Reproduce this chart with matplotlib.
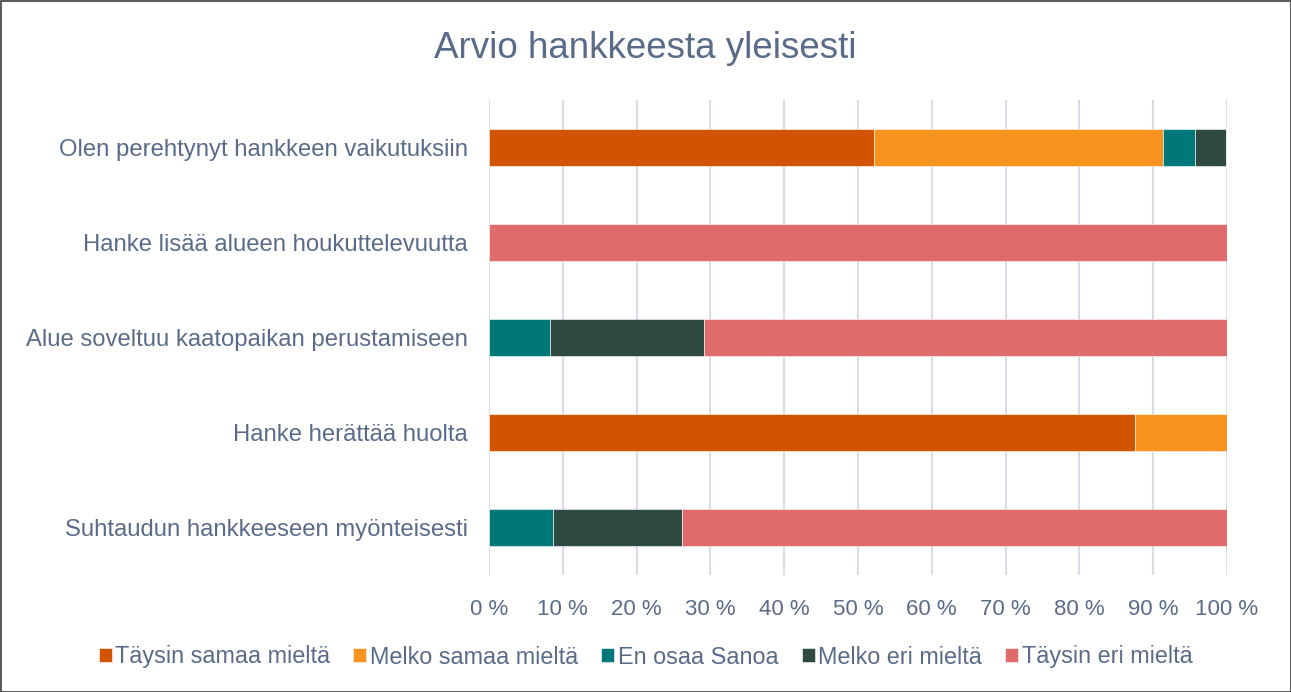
import matplotlib
matplotlib.use("Agg")
import matplotlib.pyplot as plt
from matplotlib.patches import Rectangle
import numpy as np

plt.rcParams['font.family'] = ['Liberation Sans', 'DejaVu Sans']

categories = [
    "Olen perehtynyt hankkeen vaikutuksiin",
    "Hanke lisää alueen houkuttelevuutta",
    "Alue soveltuu kaatopaikan perustamiseen",
    "Hanke herättää huolta",
    "Suhtaudun hankkeeseen myönteisesti",
]
series_names = ["Täysin samaa mieltä", "Melko samaa mieltä", "En osaa Sanoa",
                "Melko eri mieltä", "Täysin eri mieltä"]
taysin_samaa = [52.2, 0, 0, 87.5, 0]
melko_samaa = [39.1, 0, 0, 12.5, 0]
en_osaa = [4.3, 0, 8.3, 0, 8.7]
melko_eri = [4.3, 0, 20.8, 0, 17.4]
taysin_eri = [0, 100, 70.9, 0, 73.9]
xticks = [0, 10, 20, 30, 40, 50, 60, 70, 80, 90, 100]
xtick_labels = [f"{v} %" for v in xticks]

colors = ["#D35400", "#F7931E", "#00787A", "#2E4A42", "#E06B6B"]
text_color = "#5A6B8A"

fig = plt.figure(figsize=(12.91, 6.92), dpi=100)
ax = fig.add_axes([489/1291, 1-575/692, (1227-489)/1291, 475/692])

y = np.arange(len(categories))
left = np.zeros(len(categories))
for vals, name, c in zip([taysin_samaa, melko_samaa, en_osaa, melko_eri, taysin_eri],
                         series_names, colors):
    vals = np.array(vals)
    ax.barh(y, vals, left=left, height=0.39, color=c, label=name,
            edgecolor='white', linewidth=0.4, zorder=3)
    left += vals

ax.set_xlim(0, 100)
ax.set_ylim(len(categories)-0.5, -0.5)
ax.set_yticks(y)
ax.set_yticklabels(categories, fontsize=17.2, color=text_color)
ax.set_xticks(xticks)
ax.set_xticklabels(xtick_labels, fontsize=16, color=text_color)
ax.tick_params(axis='y', length=0, pad=15)
ax.tick_params(axis='x', length=0, pad=17)
ax.grid(axis='x', color='#D9DCE6', linewidth=1.5, zorder=0)
for s in ax.spines.values():
    s.set_visible(False)

fig.text(0.5, 1-48/692, "Arvio hankkeesta yleisesti", ha='center', va='center',
         fontsize=26.5, color=text_color)

leg = fig.legend(loc='center', bbox_to_anchor=(0.5, 1-657/692), ncol=5, frameon=False,
                 fontsize=16.8, handlelength=0.55, handleheight=0.55, handletextpad=0.15,
                 columnspacing=1.0)
for t in leg.get_texts():
    t.set_color(text_color)

fig.patches.append(Rectangle((0.5/1291, 0.5/692), 1-1/1291, 1-1/692, transform=fig.transFigure,
                             fill=False, edgecolor='#404040', linewidth=1.2))

fig.savefig("out.png", dpi=100, facecolor='white')
